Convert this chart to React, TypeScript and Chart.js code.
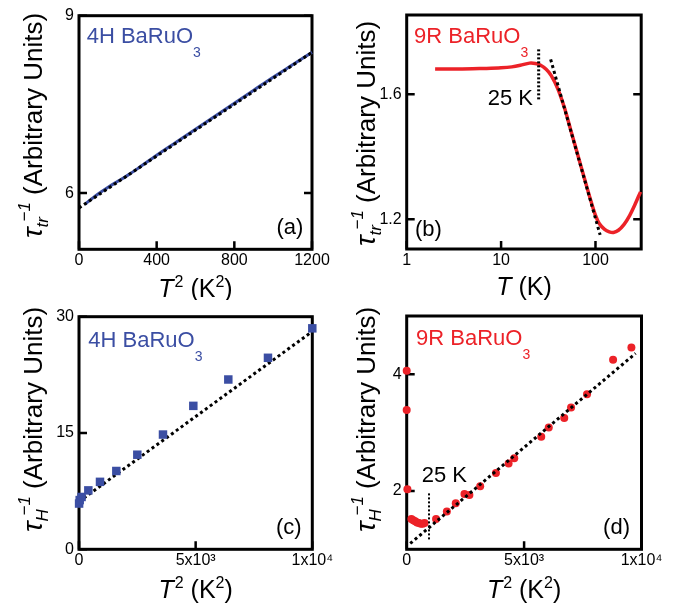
import React, { useEffect, useRef } from 'react';
import { Chart, registerables } from 'chart.js';

Chart.register(...registerables);

const FONT = '"Liberation Sans", Arial, Helvetica, sans-serif';
const BLUE = '#3b4ea3';
const RED = '#ec2228';
const INK = '#000000';

// ---------- panel (a): 4H BaRuO3, tau_tr^-1 vs T^2 ----------
const aT2 = [30, 60, 100, 150, 200, 250, 300, 400, 500, 600, 700, 800, 900, 1000, 1100, 1200];
const aTau = [5.81, 5.89, 5.99, 6.1, 6.2, 6.3, 6.41, 6.64, 6.86, 7.08, 7.3, 7.52, 7.74, 7.96, 8.17, 8.38];
const aFitT2 = [0, 1200];
const aFitTau = [5.75, 8.38];
const aXTicks = [0, 400, 800, 1200];
const aYTicks = [6, 9];

// ---------- panel (b): 9R BaRuO3, tau_tr^-1 vs T (log) ----------
const bT = [2, 3, 5, 7, 10, 13, 16, 20, 23, 26, 30, 34, 40, 47, 55, 63, 70, 80, 90, 100, 110, 125, 140, 155, 175, 200, 230, 260, 300];
const bTau = [1.681, 1.681, 1.682, 1.683, 1.685, 1.688, 1.693, 1.7, 1.699, 1.694, 1.68, 1.66, 1.617, 1.556, 1.483, 1.42, 1.371, 1.309, 1.256, 1.213, 1.186, 1.168, 1.16, 1.158, 1.165, 1.183, 1.212, 1.245, 1.288];
const bFitT = [33.5, 112];
const bFitTau = [1.712, 1.15];
const bMarkT = [25, 25];
const bMarkTau = [1.584, 1.744];
const bXTicks = [1, 10, 100];
const bYTicks = [1.2, 1.6];

// ---------- panel (c): 4H BaRuO3, tau_H^-1 vs T^2 ----------
const cT2 = [4, 30, 110, 400, 900, 1600, 2500, 3600, 4900, 6400, 8100, 10000];
const cTau = [5.9, 6.35, 6.75, 7.6, 8.7, 10.1, 12.2, 14.8, 18.5, 21.9, 24.7, 28.5];
const cFitT2 = [0, 10000];
const cFitTau = [6.15, 28.1];
const cXTicks = [0, 5000, 10000];
const cYTicks = [0, 15, 30];

// ---------- panel (d): 9R BaRuO3, tau_H^-1 vs T^2 ----------
const dT2 = [0, 0, 30, 200, 280, 360, 440, 520, 600, 680, 760, 1250, 1710, 2090, 2460, 2670, 3130, 3800, 4340, 4580, 5730, 6050, 6710, 7000, 7680, 8790, 9570];
const dTau = [4.06, 3.39, 2.03, 1.52, 1.5, 1.48, 1.46, 1.45, 1.44, 1.44, 1.45, 1.52, 1.65, 1.79, 1.95, 1.93, 2.08, 2.31, 2.47, 2.56, 2.93, 3.09, 3.25, 3.43, 3.66, 4.25, 4.46];
const dFitT2 = [150, 9750];
const dFitTau = [1.1, 4.36];
const dMarkT2 = [950, 950];
const dMarkTau = [1.17, 1.97];
const dXTicks = [0, 5000, 10000];
const dYTicks = [2, 4];

const sciLabel = (v: number) => (v === 0 ? '0' : v === 5000 ? '5x10\u00b3' : v === 10000 ? '1x10\u2074' : String(v));

// ---------- rich text helpers ----------
type Seg = { t: string; size: number; italic?: boolean; dy?: number; dx?: number };
type Piece = Seg | { stack: Seg[] };

const fontOf = (s: Seg) => `${s.italic ? 'italic ' : 'normal '}${s.size}px ${FONT}`;

function segWidth(ctx: CanvasRenderingContext2D, s: Seg) {
  ctx.font = fontOf(s);
  return ctx.measureText(s.t).width + (s.dx || 0);
}
function pieceWidth(ctx: CanvasRenderingContext2D, p: Piece) {
  if ('stack' in p) return Math.max(...p.stack.map((s) => segWidth(ctx, s)));
  return segWidth(ctx, p);
}
function drawRich(ctx: CanvasRenderingContext2D, pieces: Piece[], x: number, y: number, align: string, color: string) {
  const widths = pieces.map((p) => pieceWidth(ctx, p));
  const total = widths.reduce((a, b) => a + b, 0);
  let cx = align === 'center' ? x - total / 2 : align === 'right' ? x - total : x;
  ctx.fillStyle = color;
  ctx.textAlign = 'left';
  ctx.textBaseline = 'alphabetic';
  pieces.forEach((p, i) => {
    const segs = 'stack' in p ? p.stack : [p];
    for (const s of segs) {
      ctx.font = fontOf(s);
      ctx.fillText(s.t, cx + (s.dx || 0), y + (s.dy || 0));
    }
    cx += widths[i];
  });
}

const tauTitle = (sub: string): Piece[] => [
  { t: '\u03c4', size: 28, italic: true },
  {
    stack: [
      { t: sub, size: 17, italic: true, dy: 6 },
      { t: '\u22121', size: 17, italic: true, dy: -12, dx: 6 },
    ],
  },
  { t: ' (Arbitrary Units)', size: 26 },
];
const t2Title: Piece[] = [
  { t: 'T', size: 25, italic: true },
  { t: '2', size: 16, dy: -10, dx: 1 },
  { t: ' (K', size: 25 },
  { t: '2', size: 16, dy: -10 },
  { t: ')', size: 25 },
];
const tTitle: Piece[] = [
  { t: 'T', size: 25, italic: true },
  { t: ' (K)', size: 25 },
];
const compound = (name: string): Piece[] => [
  { t: name, size: 22 },
  { t: '3', size: 14, dy: 14 },
];

type TextItem = { pieces: Piece[]; x: number; y: number; align: string; color: string };

interface PanelCfg {
  left: number;
  top: number;
  width: number;
  height: number;
  area: { l: number; r: number; t: number; b: number };
  xType: 'linear' | 'logarithmic';
  xMin: number;
  xMax: number;
  yMin: number;
  yMax: number;
  xTicks: number[];
  yTicks: number[];
  xLabel: (v: number) => string;
  yLabel: (v: number) => string;
  rightTicks: boolean;
  datasets: any[];
  yTitle: { pieces: Piece[]; baseX: number; startY: number };
  xTitle: { pieces: Piece[]; y: number };
  texts: TextItem[];
}

const pts = (xs: number[], ys: number[]) => xs.map((x, i) => ({ x, y: ys[i] }));

const lineDs = (data: any, color: string, width: number, dash: number[] = [], tension = 0) => ({
  data,
  showLine: true,
  borderColor: color,
  backgroundColor: color,
  borderWidth: width,
  borderDash: dash,
  pointRadius: 0,
  tension,
  clip: false,
});

function Panel({ cfg }: { cfg: PanelCfg }) {
  const ref = useRef<HTMLCanvasElement | null>(null);
  useEffect(() => {
    const canvas = ref.current;
    if (!canvas) return;
    const { area, width: W, height: H } = cfg;
    const deco = {
      id: 'deco',
      beforeDatasetsDraw(chart: any) {
        const ctx = chart.ctx as CanvasRenderingContext2D;
        const { left, right, top, bottom } = chart.chartArea;
        const xs = chart.scales.x;
        const ys = chart.scales.y;
        ctx.save();
        ctx.strokeStyle = INK;
        ctx.lineWidth = 3;
        ctx.lineCap = 'butt';
        ctx.strokeRect(left, top, right - left, bottom - top);
        ctx.lineWidth = 2.5;
        const TL = 8;
        ctx.beginPath();
        for (const v of cfg.xTicks) {
          const px = xs.getPixelForValue(v);
          ctx.moveTo(px, bottom);
          ctx.lineTo(px, bottom - TL);
        }
        for (const v of cfg.yTicks) {
          const py = ys.getPixelForValue(v);
          ctx.moveTo(left, py);
          ctx.lineTo(left + TL, py);
          if (cfg.rightTicks) {
            ctx.moveTo(right, py);
            ctx.lineTo(right - TL, py);
          }
        }
        ctx.stroke();
        ctx.restore();
      },
      afterDraw(chart: any) {
        const ctx = chart.ctx as CanvasRenderingContext2D;
        const { left, right } = chart.chartArea;
        ctx.save();
        ctx.save();
        ctx.translate(cfg.yTitle.baseX, cfg.yTitle.startY);
        ctx.rotate(-Math.PI / 2);
        drawRich(ctx, cfg.yTitle.pieces, 0, 0, 'left', INK);
        ctx.restore();
        drawRich(ctx, cfg.xTitle.pieces, (left + right) / 2, cfg.xTitle.y, 'center', INK);
        for (const t of cfg.texts) drawRich(ctx, t.pieces, t.x, t.y, t.align, t.color);
        ctx.restore();
      },
    };
    const tickFont = { family: FONT, size: 16 };
    const chart = new Chart(canvas, {
      type: 'scatter',
      data: { datasets: cfg.datasets },
      options: {
        responsive: false,
        animation: false,
        events: [],
        layout: { padding: { left: 0, top: area.t, right: W - area.r, bottom: 0 } },
        plugins: { legend: { display: false }, tooltip: { enabled: false } },
        scales: {
          x: {
            type: cfg.xType,
            min: cfg.xMin,
            max: cfg.xMax,
            grid: { display: false, drawTicks: false, tickLength: 0 },
            border: { display: false },
            ticks: {
              font: tickFont,
              color: INK,
              padding: 2,
              maxRotation: 0,
              autoSkip: false,
              callback: (v: any) => cfg.xLabel(Number(v)),
            },
            afterBuildTicks: (s: any) => {
              s.ticks = cfg.xTicks.map((v) => ({ value: v }));
            },
            afterFit: (s: any) => {
              s.height = H - area.b;
              s.paddingLeft = 0;
              s.paddingRight = 0;
              s.paddingTop = 0;
              s.paddingBottom = 0;
            },
          },
          y: {
            type: 'linear',
            min: cfg.yMin,
            max: cfg.yMax,
            grid: { display: false, drawTicks: false, tickLength: 0 },
            border: { display: false },
            ticks: {
              font: tickFont,
              color: INK,
              padding: 5,
              autoSkip: false,
              callback: (v: any) => cfg.yLabel(Number(v)),
            },
            afterBuildTicks: (s: any) => {
              s.ticks = cfg.yTicks.map((v) => ({ value: v }));
            },
            afterFit: (s: any) => {
              s.width = area.l;
              s.paddingLeft = 0;
              s.paddingRight = 0;
              s.paddingTop = 0;
              s.paddingBottom = 0;
            },
          },
        },
      } as any,
      plugins: [deco],
    });
    return () => chart.destroy();
  }, [cfg]);
  return (
    <canvas
      ref={ref}
      width={cfg.width}
      height={cfg.height}
      style={{ position: 'absolute', left: cfg.left, top: cfg.top, width: cfg.width, height: cfg.height, display: 'block' }}
    />
  );
}

const panels: PanelCfg[] = [
  {
    left: 0,
    top: 0,
    width: 338,
    height: 300,
    area: { l: 79, r: 312, t: 15.7, b: 249.3 },
    xType: 'linear',
    xMin: 0,
    xMax: 1200,
    yMin: 5.05,
    yMax: 9,
    xTicks: aXTicks,
    yTicks: aYTicks,
    xLabel: (v) => String(v),
    yLabel: (v) => String(v),
    rightTicks: true,
    datasets: [
      lineDs(pts(aFitT2, aFitTau), INK, 3, [3, 3]),
      lineDs(pts(aT2, aTau), BLUE, 3, [], 0.3),
    ],
    yTitle: { pieces: tauTitle('tr'), baseX: 42, startY: 238 },
    xTitle: { pieces: t2Title, y: 297 },
    texts: [
      { pieces: compound('4H BaRuO'), x: 86.7, y: 43, align: 'left', color: BLUE },
      { pieces: [{ t: '(a)', size: 22 }], x: 303.3, y: 234, align: 'right', color: INK },
    ],
  },
  {
    left: 338,
    top: 0,
    width: 338,
    height: 300,
    area: { l: 68.7, r: 303.2, t: 15, b: 249 },
    xType: 'logarithmic',
    xMin: 1,
    xMax: 305,
    yMin: 1.105,
    yMax: 1.854,
    xTicks: bXTicks,
    yTicks: bYTicks,
    xLabel: (v) => String(v),
    yLabel: (v) => v.toFixed(1),
    rightTicks: true,
    datasets: [
      lineDs(pts(bMarkT, bMarkTau), INK, 3, [2, 2]),
      lineDs(pts(bFitT, bFitTau), INK, 3, [3, 3]),
      lineDs(pts(bT, bTau), RED, 3.5, [], 0.3),
    ],
    yTitle: { pieces: tauTitle('tr'), baseX: 37, startY: 246 },
    xTitle: { pieces: tTitle, y: 295 },
    texts: [
      { pieces: compound('9R BaRuO'), x: 76, y: 43, align: 'left', color: RED },
      { pieces: [{ t: '(b)', size: 22 }], x: 77, y: 236, align: 'left', color: INK },
      { pieces: [{ t: '25 K', size: 22 }], x: 195, y: 105, align: 'right', color: INK },
    ],
  },
  {
    left: 0,
    top: 300,
    width: 338,
    height: 307,
    area: { l: 79, r: 312.3, t: 16.7, b: 249.3 },
    xType: 'linear',
    xMin: 0,
    xMax: 10000,
    yMin: 0,
    yMax: 30,
    xTicks: cXTicks,
    yTicks: cYTicks,
    xLabel: sciLabel,
    yLabel: (v) => String(v),
    rightTicks: false,
    datasets: [
      {
        data: pts(cT2, cTau),
        pointStyle: 'rect',
        pointRadius: 6,
        backgroundColor: BLUE,
        borderColor: BLUE,
        borderWidth: 0,
        clip: false,
      },
      lineDs(pts(cFitT2, cFitTau), INK, 3, [3, 3]),
    ],
    yTitle: { pieces: tauTitle('H'), baseX: 42, startY: 232 },
    xTitle: { pieces: t2Title, y: 298 },
    texts: [
      { pieces: compound('4H BaRuO'), x: 88.3, y: 46.7, align: 'left', color: BLUE },
      { pieces: [{ t: '(c)', size: 22 }], x: 301.7, y: 234, align: 'right', color: INK },
    ],
  },
  {
    left: 338,
    top: 300,
    width: 338,
    height: 307,
    area: { l: 68.7, r: 303.5, t: 16, b: 249.3 },
    xType: 'linear',
    xMin: 0,
    xMax: 10000,
    yMin: 1,
    yMax: 5,
    xTicks: dXTicks,
    yTicks: dYTicks,
    xLabel: sciLabel,
    yLabel: (v) => String(v),
    rightTicks: false,
    datasets: [
      lineDs(pts(dMarkT2, dMarkTau), INK, 2, [2, 2]),
      lineDs(pts(dFitT2, dFitTau), INK, 3, [3, 3]),
      {
        data: pts(dT2, dTau),
        pointStyle: 'circle',
        pointRadius: 4,
        backgroundColor: RED,
        borderColor: RED,
        borderWidth: 0,
        clip: false,
      },
    ],
    yTitle: { pieces: tauTitle('H'), baseX: 37, startY: 232 },
    xTitle: { pieces: t2Title, y: 298 },
    texts: [
      { pieces: compound('9R BaRuO'), x: 78, y: 45, align: 'left', color: RED },
      { pieces: [{ t: '(d)', size: 22 }], x: 292, y: 234, align: 'right', color: INK },
      { pieces: [{ t: '25 K', size: 22 }], x: 83.7, y: 182, align: 'left', color: INK },
    ],
  },
];

export default function App() {
  return (
    <div style={{ position: 'absolute', left: 0, top: 0, width: 676, height: 607, background: '#ffffff', overflow: 'hidden' }}>
      {panels.map((p, i) => (
        <Panel key={i} cfg={p} />
      ))}
    </div>
  );
}
